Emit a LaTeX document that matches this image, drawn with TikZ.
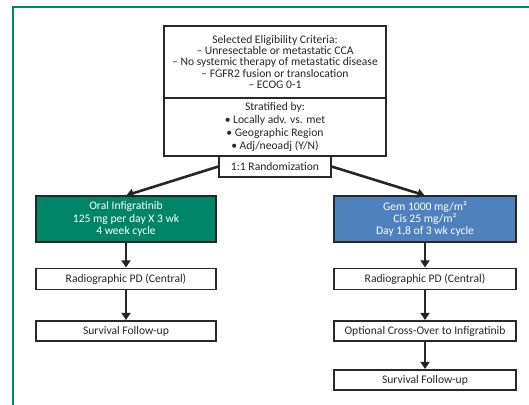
\documentclass[tikz,border=0pt]{standalone}
\usepackage{fontspec}
\setmainfont{Carlito}
\usetikzlibrary{arrows.meta}
\definecolor{framegreen}{RGB}{0,133,100}
\definecolor{boxgreen}{RGB}{0,133,102}
\definecolor{boxblue}{RGB}{79,129,189}
\definecolor{boxline}{RGB}{40,40,40}
\tikzset{
  box/.style={draw=boxline, line width=1.1pt, fill=white, inner sep=0pt, align=center, font=\fontsize{11.6}{11.4}\selectfont, text=black!85},
  greenbox/.style={box, fill=boxgreen, text=white},
  bluebox/.style={box, fill=boxblue, text=white},
  flow/.style={line width=2.6pt, draw=black!85, -{Triangle[width=9pt,length=7pt]}, shorten >=0.5pt}
}
\begin{document}
\begin{tikzpicture}[x=1pt,y=-1pt]
\useasboundingbox (0,0) rectangle (529,404);
\draw[framegreen, line width=2.4pt] (13,410) -- (13,7.2) -- (535,7.2);
% top box
\node[box, minimum width=222pt, minimum height=72pt] (crit) at (275,62)
  {Selected Eligibility Criteria:\\ – Unresectable or metastatic CCA\\ – No systemic therapy of metastatic disease\\ – FGFR2 fusion or translocation\\ – ECOG 0-1};
\node[box, minimum width=222pt, minimum height=58pt] (strat) at (275,127)
  {Stratified by:\\[1.6pt] • Locally adv. vs. met\\[1.6pt] • Geographic Region\\[1.6pt] • Adj/neoadj (Y/N)};
\node[box, minimum width=112pt, minimum height=21pt] (rand) at (275,166.5) {1:1 Randomization};
% arms
\node[greenbox, minimum width=180pt, minimum height=46pt] (oral) at (126,219)
  {Oral Infigratinib\\[1pt] 125 mg per day X 3 wk\\[1pt] 4 week cycle};
\node[bluebox, minimum width=182pt, minimum height=46pt] (gem) at (425,219)
  {Gem 1000 mg/m²\\[1pt] Cis 25 mg/m²\\[1pt] Day 1,8 of 3 wk cycle};
\node[box, minimum width=180pt, minimum height=21pt] (pdl) at (126,279) {Radiographic PD (Central)};
\node[box, minimum width=182pt, minimum height=21pt] (pdr) at (425,279) {Radiographic PD (Central)};
\node[box, minimum width=180pt, minimum height=20pt] (survl) at (126,331) {Survival Follow-up};
\node[box, minimum width=182pt, minimum height=20pt] (cross) at (425,331) {Optional Cross-Over to Infigratinib};
\node[box, minimum width=182pt, minimum height=20pt] (survr) at (425,380) {Survival Follow-up};
% connectors
\draw[flow] (rand.west) -- (oral.north);
\draw[flow] (rand.east) -- (gem.north);
\draw[flow] (oral.south) -- (pdl.north);
\draw[flow] (pdl.south) -- (survl.north);
\draw[flow] (gem.south) -- (pdr.north);
\draw[flow] (pdr.south) -- (cross.north);
\draw[flow] (cross.south) -- (survr.north);
\end{tikzpicture}
\end{document}
